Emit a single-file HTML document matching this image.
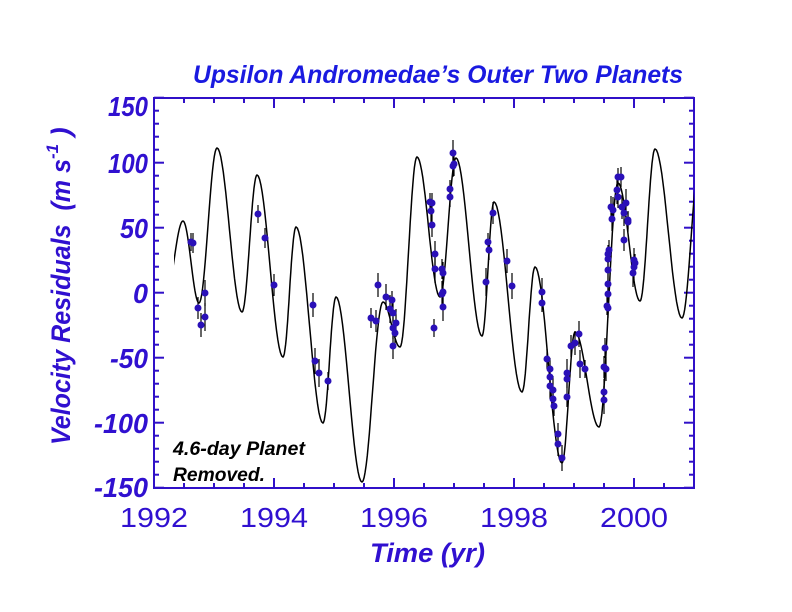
<!DOCTYPE html>
<html><head><meta charset="utf-8"><style>
html,body{margin:0;padding:0;background:#fff;}
svg{display:block;}
</style></head><body>
<svg id="s" width="792" height="612" xmlns="http://www.w3.org/2000/svg" font-family="Liberation Sans, sans-serif">
<rect width="792" height="612" fill="#fff"/>
<defs><clipPath id="c"><rect x="174" y="98" width="520" height="390"/></clipPath></defs>
<g id="ticks" stroke="#3010c8" stroke-width="2" fill="none"></g>
<rect x="154" y="98" width="540" height="390" fill="none" stroke="#3010c8" stroke-width="2"/>
<path id="curve" clip-path="url(#c)" fill="none" stroke="#000" stroke-width="1.5"/>
<g id="err" stroke="#000" stroke-width="1.2"></g>
<g id="dots" fill="#2a10b8"></g>
<text x="193" y="83" font-size="25" font-weight="bold" font-style="italic" fill="#1a1ae0" textLength="490" lengthAdjust="spacingAndGlyphs">Upsilon Andromedae’s Outer Two Planets</text>
<g font-size="28" font-weight="bold" font-style="italic" fill="#3010d0" text-anchor="end">
<text x="148" y="116" textLength="40" lengthAdjust="spacingAndGlyphs">150</text>
<text x="148" y="173" textLength="40" lengthAdjust="spacingAndGlyphs">100</text>
<text x="148" y="238" textLength="28" lengthAdjust="spacingAndGlyphs">50</text>
<text x="148" y="303" textLength="15" lengthAdjust="spacingAndGlyphs">0</text>
<text x="148" y="368" textLength="38" lengthAdjust="spacingAndGlyphs">-50</text>
<text x="148" y="433" textLength="54" lengthAdjust="spacingAndGlyphs">-100</text>
<text x="148" y="497" textLength="54" lengthAdjust="spacingAndGlyphs">-150</text>
</g>
<g font-size="28" fill="#3010d0" text-anchor="middle">
<text x="154" y="527" textLength="68" lengthAdjust="spacingAndGlyphs">1992</text>
<text x="274" y="527" textLength="68" lengthAdjust="spacingAndGlyphs">1994</text>
<text x="394" y="527" textLength="68" lengthAdjust="spacingAndGlyphs">1996</text>
<text x="514" y="527" textLength="68" lengthAdjust="spacingAndGlyphs">1998</text>
<text x="634" y="527" textLength="68" lengthAdjust="spacingAndGlyphs">2000</text>
</g>
<text x="370" y="562" font-size="27" font-weight="bold" font-style="italic" fill="#3010d0" textLength="115" lengthAdjust="spacingAndGlyphs">Time  (yr)</text>
<text transform="translate(70,445) rotate(-90)" font-size="27" font-weight="bold" font-style="italic" fill="#3010d0" xml:space="preserve"><tspan textLength="286" lengthAdjust="spacingAndGlyphs">Velocity Residuals  (m s</tspan><tspan font-size="17" dy="-12">-1</tspan><tspan dy="12"> )</tspan></text>
<g font-size="19" font-weight="bold" font-style="italic" fill="#000">
<text x="173" y="455" textLength="132" lengthAdjust="spacingAndGlyphs">4.6-day Planet</text>
<text x="173" y="481" textLength="92" lengthAdjust="spacingAndGlyphs">Removed.</text>
</g>
</svg>
<script>
var NS="http://www.w3.org/2000/svg";
function el(p,t,a){var e=document.createElementNS(NS,t);for(var k in a)e.setAttribute(k,a[k]);p.appendChild(e);return e;}
var T=document.getElementById('ticks');
for(var v=-150;v<=150;v+=10){var y=292.7-1.3*v;var L=(v%50==0)?10:5;
el(T,'line',{x1:154,y1:y,x2:154+L,y2:y});el(T,'line',{x1:694,y1:y,x2:694-L,y2:y});}
for(var i=0;i<=18;i++){var x=154+30*i;var L=(i%4==0)?10:5;
el(T,'line',{x1:x,y1:488,x2:x,y2:488-L});el(T,'line',{x1:x,y1:98,x2:x,y2:98+L});}
var E=[[165,300],[183,221],[199,303],[217,148],[242,312],[257,175],[283,357],[296,227],[323,423],[336,297],[362,482],[383,302],[400,347],[417,157],[440,297],[456,158],[482,336],[494,202],[522,392],[535,267],[562,463],[575,332],[599,427],[618,183],[640,301],[655,149],[682,318],[700,160]];
var d="";
for(var i=0;i<E.length-1;i++){var a=E[i],b=E[i+1];for(var s=0;s<=20;s++){var u=s/20;var x=a[0]+(b[0]-a[0])*u;var y=a[1]+(b[1]-a[1])*(1-Math.cos(Math.PI*u))/2;d+=(d?"L":"M")+x.toFixed(1)+","+y.toFixed(1);}}
document.getElementById('curve').setAttribute('d',d);
var P=[[191,242],[193,243],[198,308],[201,325],[205,293],[205,317],[258,214],[265,238],[274,285],[313,305],[315,361],[319,373],[328,381],
[371,318],[376,321],[378,285],[386,297],[390,309],[392,300],[393,313],[393,328],[395,333],[393,346],[396,323],
[430,202],[432,203],[431,211],[432,225],[435,254],[435,269],[434,328],[442,269],[443,273],[443,292],[442,294],[443,307],[450,189],[450,197],[453,166],[454,164],[453,153],
[486,282],[488,242],[489,250],[493,213],[507,261],[512,286],[542,292],[542,303],[547,359],[550,369],[550,377],[550,386],[553,390],[553,399],[554,406],[558,434],[558,444],[562,458],
[567,373],[567,379],[567,397],[571,346],[575,343],[579,334],[580,364],[585,369],[605,348],[604,367],[606,369],[604,392],[604,400],
[608,254],[609,250],[608,259],[608,270],[608,284],[608,294],[607,306],[608,308],[611,207],[612,219],[613,210],[617,190],[618,177],[621,177],[618,197],[622,207],[624,213],[626,203],[628,220],[628,222],[624,240],[634,260],[634,267],[633,273],[635,263]];
var R=document.getElementById('err'),D=document.getElementById('dots');
P.forEach(function(p,i){var h=9+(i*7)%6;el(R,'line',{x1:p[0],y1:p[1]-h,x2:p[0],y2:p[1]+h});el(D,'circle',{cx:p[0],cy:p[1],r:3.5});});
</script>
</body></html>
